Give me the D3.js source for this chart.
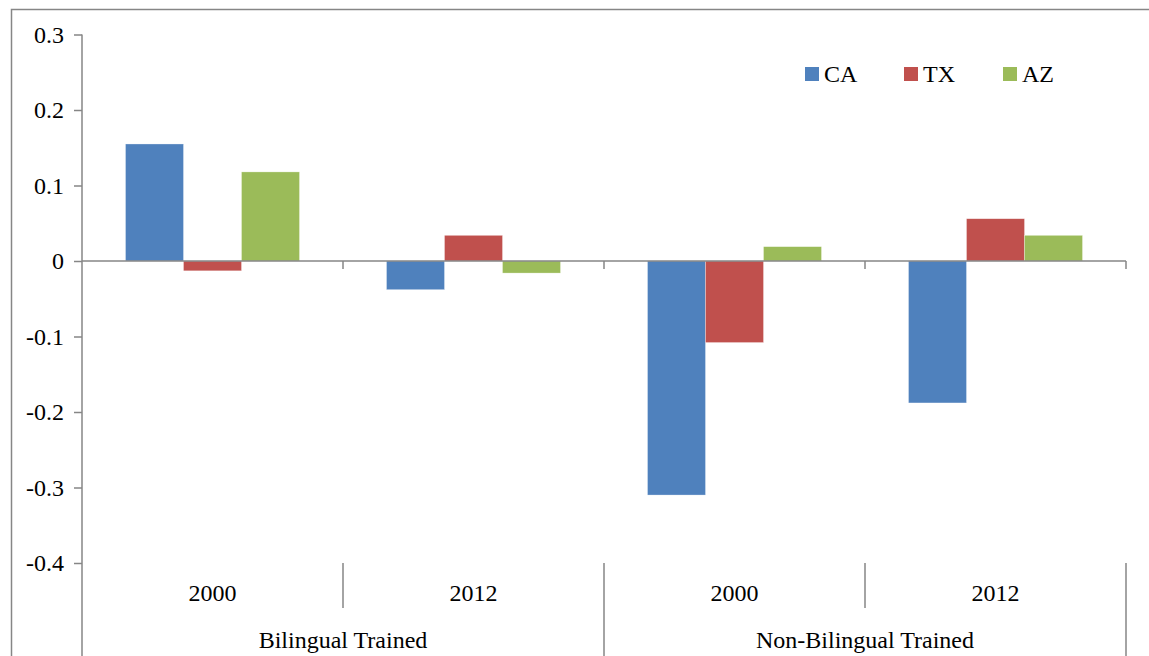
<!DOCTYPE html>
<html>
<head>
<meta charset="utf-8">
<script src="https://cdn.jsdelivr.net/npm/d3@7"></script>
<style>
    body { margin: 0; background: #fff; }
    svg { display: block; font-family: "Liberation Serif", "Times New Roman", serif; }
</style>
</head>
<body>
<svg id="chart" width="1149" height="656"></svg>
<script>
const groups = ["Bilingual Trained", "Non-Bilingual Trained"];
const years = ["2000", "2012"];
const series = ["CA", "TX", "AZ"];
const colors = ["#4F81BD", "#C0504D", "#9BBB59"];
const caValues = [0.155, -0.038, -0.31, -0.188];
const txValues = [-0.013, 0.034, -0.108, 0.056];
const azValues = [0.118, -0.016, 0.019, 0.034];
const yTicks = [0.3, 0.2, 0.1, 0, -0.1, -0.2, -0.3, -0.4];

const categories = groups.flatMap((g) => years.map((y) => `${g}|${y}`));
const seriesValues = [caValues, txValues, azValues];

const svg = d3.select("#chart");
const axisColor = "#868686";
const font = "Liberation Serif, Times New Roman, serif";

// outer chart area border (runs off the right and bottom edges)
svg.append("rect")
    .attr("x", 11.5).attr("y", 9.5)
    .attr("width", 1200).attr("height", 700)
    .attr("fill", "none").attr("stroke", axisColor).attr("stroke-width", 1.5);

const x = d3.scaleBand().domain(categories).range([82, 1126]);
const xInner = d3.scaleBand().domain(series).range([0, x.bandwidth()]).paddingOuter(0.75);
const xGroup = d3.scaleBand().domain(groups).range([82, 1126]);
const y = d3.scaleLinear().domain([-0.4, 0.3]).range([563, 34.5]);

// bars
const barData = categories.flatMap((c, i) =>
    series.map((s, j) => ({ cat: c, s, v: seriesValues[j][i], color: colors[j] }))
);
svg.append("g")
    .selectAll("rect")
    .data(barData)
    .enter()
    .append("rect")
    .attr("x", (d) => x(d.cat) + xInner(d.s))
    .attr("width", xInner.bandwidth())
    .attr("y", (d) => y(Math.max(0, d.v)))
    .attr("height", (d) => Math.abs(y(d.v) - y(0)))
    .attr("fill", (d) => d.color)
    .attr("stroke", "#fff")
    .attr("stroke-opacity", 0.5)
    .attr("stroke-width", 0.6);

// y axis (hyphen for negatives, like the source)
const yAxis = d3.axisLeft(y).tickValues(yTicks).tickSize(8).tickPadding(10)
    .tickFormat((d) => (d === 0 ? "0" : d.toFixed(1)));
const yg = svg.append("g").attr("transform", "translate(82,0)").call(yAxis);
yg.select(".domain").remove();
yg.selectAll(".tick line").attr("stroke", axisColor).attr("stroke-width", 1.5);
yg.selectAll(".tick text").attr("font-size", 24).attr("fill", "#000")
    .attr("font-family", font);
svg.append("line")
    .attr("x1", 82).attr("x2", 82).attr("y1", y(0.3)).attr("y2", 660)
    .attr("stroke", axisColor).attr("stroke-width", 1.5);

// zero line with tick marks at category boundaries
svg.append("line")
    .attr("x1", 82).attr("x2", 1126).attr("y1", y(0)).attr("y2", y(0))
    .attr("stroke", axisColor).attr("stroke-width", 1.5);
svg.append("g")
    .selectAll("line")
    .data(categories)
    .enter()
    .append("line")
    .attr("x1", (d) => x(d) + x.bandwidth()).attr("x2", (d) => x(d) + x.bandwidth())
    .attr("y1", y(0)).attr("y2", y(0) + 8)
    .attr("stroke", axisColor).attr("stroke-width", 1.5);

// bottom multi-level category labels
const bottom = svg.append("g").attr("font-family", font);
bottom.selectAll(".year")
    .data(categories)
    .enter()
    .append("text")
    .attr("x", (d) => x(d) + x.bandwidth() / 2)
    .attr("y", 601)
    .attr("text-anchor", "middle")
    .attr("font-size", 24)
    .text((d) => d.split("|")[1]);
bottom.selectAll(".ydiv")
    .data(categories.filter((d, i) => i % 2 === 0))
    .enter()
    .append("line")
    .attr("x1", (d) => x(d) + x.bandwidth()).attr("x2", (d) => x(d) + x.bandwidth())
    .attr("y1", y(-0.4)).attr("y2", 608)
    .attr("stroke", axisColor).attr("stroke-width", 1.5);
bottom.selectAll(".group")
    .data(groups)
    .enter()
    .append("text")
    .attr("x", (d) => xGroup(d) + xGroup.bandwidth() / 2)
    .attr("y", 648)
    .attr("text-anchor", "middle")
    .attr("font-size", 24)
    .text((d) => d);
bottom.selectAll(".gdiv")
    .data(groups)
    .enter()
    .append("line")
    .attr("x1", (d) => xGroup(d) + xGroup.bandwidth()).attr("x2", (d) => xGroup(d) + xGroup.bandwidth())
    .attr("y1", y(-0.4)).attr("y2", 660)
    .attr("stroke", axisColor).attr("stroke-width", 1.5);

// legend
const legend = svg.append("g").attr("transform", "translate(805,67)").attr("font-family", font);
const item = legend.selectAll("g")
    .data(series)
    .enter()
    .append("g")
    .attr("transform", (d, i) => `translate(${i * 99},0)`);
item.append("rect")
    .attr("width", 14).attr("height", 14)
    .attr("fill", (d, i) => colors[i]);
item.append("text")
    .attr("x", 19).attr("y", 15)
    .attr("font-size", 24)
    .text((d) => d);
</script>
</body>
</html>
